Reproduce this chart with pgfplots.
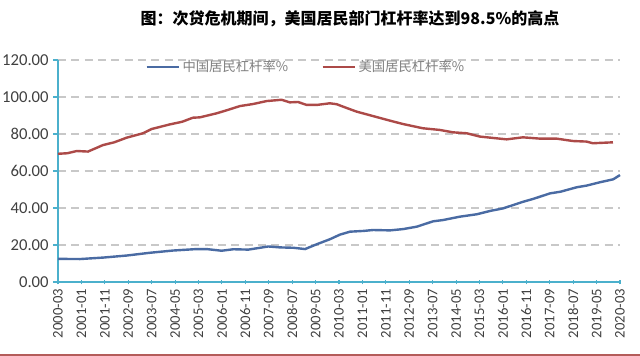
\documentclass[border=0pt]{standalone}
\usepackage{pgfplots}
\pgfplotsset{compat=1.18}
\usepackage{fontspec}
\setmainfont{Carlito}
\newfontfamily\cjk{Noto Sans CJK SC}
\definecolor{cnblue}{HTML}{4A6BA3}
\definecolor{usred}{HTML}{AC4A48}
\definecolor{axteal}{HTML}{4BB0CC}
\definecolor{gridgray}{HTML}{C8C8C8}
\definecolor{txtgray}{HTML}{404040}
\definecolor{leggray}{HTML}{7F7F7F}
\begin{document}
\begin{tikzpicture}
\useasboundingbox (0,0) rectangle (480pt,267pt);
\node[font=\cjk\bfseries\fontsize{12pt}{13pt}\selectfont, text=black] at (262.5pt,253pt) {图：次贷危机期间，美国居民部门杠杆率达到98.5\%的高点};
\draw[color=usred!90!white, line width=1.5pt] (0,0.8pt) -- (480pt,0.8pt);
\begin{axis}[
  at={(43.5pt,55.5pt)}, anchor=south west,
  scale only axis, width=421.5pt, height=166.5pt,
  xmin=0, xmax=240, ymin=0, ymax=120,
  axis x line*=bottom, axis y line*=left,
  axis line style={draw=axteal, line width=0.8pt},
  ytick={0,20,...,120},
  xtick={0,10,...,240},
  xticklabels={2000-03,2001-01,2001-11,2002-09,2003-07,2004-05,2005-03,2006-01,2006-11,2007-09,2008-07,2009-05,2010-03,2011-01,2011-11,2012-09,2013-07,2014-05,2015-03,2016-01,2016-11,2017-09,2018-07,2019-05,2020-03},
  xticklabel style={rotate=90, anchor=east, font=\fontsize{11pt}{12pt}\selectfont, text=txtgray},
  yticklabel style={font=\fontsize{12.5pt}{13pt}\selectfont, text=txtgray},
  /pgf/number format/assume math mode=true,
  yticklabel={\pgfmathprintnumber[fixed, fixed zerofill, precision=2]{\tick}},
  tick style={draw=axteal, line width=0.8pt},
  major tick length=3.5pt,
  xtick align=center, ytick align=outside,
  ymajorgrids,
  grid style={draw=gridgray, dash pattern=on 6pt off 4pt, line width=0.8pt},
  legend columns=2,
  legend style={at={(0.148,0.968)}, anchor=west, draw=none, fill=none,
    font=\cjk\fontsize{10pt}{11pt}\selectfont, text=leggray,
    /tikz/every even column/.append style={column sep=23pt}},
  legend image code/.code={\draw[#1, line width=1.8pt] (0pt,0pt) -- (24pt,0pt);},
  clip=false,
]
\addplot[color=cnblue, line width=1.8pt] coordinates {
(0,12.5) (9.4,12.4) (19.3,13.2) (29.3,14.3) (39.3,15.8) (49.1,17.0) (59.2,17.8) (63.5,17.8) (69.9,16.9) (74.9,17.7) (81.3,17.5) (89.8,19.2) (94.8,18.7) (100.5,18.5) (105.5,17.8) (110.5,20.4) (116.1,23.1) (120.4,25.6) (124.7,27.2) (130.4,27.6) (134.6,28.1) (141.8,27.9) (147.4,28.6) (153.2,29.9) (160.2,32.8) (164.5,33.5) (171.6,35.3) (178.8,36.6) (184.5,38.4) (190.1,39.8) (198.7,43.4) (202.9,44.9) (210.1,47.9) (214.6,48.8) (221.5,51.2) (225.7,52.1) (231.4,53.9) (237.1,55.5) (240,57.8)
};
\addlegendentry{中国居民杠杆率\%}
\addplot[color=usred, line width=1.8pt] coordinates {
(0,69.3) (4,69.6) (8,70.8) (12.8,70.5) (19.2,74) (24,75.5) (29.3,78) (36.3,80.4) (40,82.7) (47.8,85.2) (53,86.6) (57.6,88.8) (60.6,89) (67.8,91.2) (72,92.8) (77.7,95.1) (83.3,96.2) (89.1,97.8) (95.5,98.5) (99,97.1) (102.5,97.3) (106.2,95.7) (110.5,95.7) (116.1,96.6) (119,96.1) (123.4,94) (127.5,92.1) (134.5,89.7) (141.8,87.2) (147.3,85.4) (155.8,83.1) (163,82.2) (168.7,80.9) (174.5,80.4) (180.2,78.6) (191.6,77.1) (198.5,78.2) (205.8,77.5) (212.9,77.5) (219.9,76.2) (225.7,75.9) (228.4,75.0) (237,75.5)
};
\addlegendentry{美国居民杠杆率\%}
\end{axis}
\end{tikzpicture}
\end{document}
